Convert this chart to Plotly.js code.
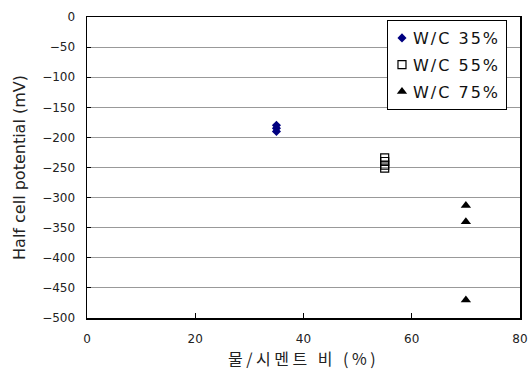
<!DOCTYPE html>
<html>
<head>
<meta charset="utf-8">
<script src="https://cdn.plot.ly/plotly-3.0.1.min.js"></script>
<style>html,body{margin:0;padding:0;background:#fff;}#chart{width:528px;height:374px;}</style>
</head>
<body>
<div id="chart"></div>
<script>
const seriesNames = ["W/C 35%", "W/C 55%", "W/C 75%"];
const x35 = [35, 35, 35];
const y35 = [-180, -185, -190];
const x55 = [55, 55, 55, 55];
const y55 = [-234, -240, -246, -251];
const x75 = [70, 70, 70];
const y75 = [-313, -340, -470];
const xTicks = [0, 20, 40, 60, 80];
const yTicks = [0, -50, -100, -150, -200, -250, -300, -350, -400, -450, -500];

const traces = [
  {x: x35, y: y35, name: seriesNames[0], legendgroup: 'g1', type: 'scatter', mode: 'markers',
   marker: {symbol: 'diamond', size: 7, color: '#000080'}},
  {x: x55, y: y55, name: seriesNames[1], legendgroup: 'g2', type: 'scatter', mode: 'markers',
   marker: {symbol: 'square-open', size: 8, color: '#000000', line: {width: 1.2, color: '#000'}}},
  {x: x75, y: y75, name: seriesNames[2], legendgroup: 'g3', type: 'scatter', mode: 'markers',
   marker: {symbol: 'triangle-up', size: 9, color: '#000000'}}
];

const tickFont = {size: 12, family: '"DejaVu Sans", sans-serif', color: '#222'};

const layout = {
  width: 528, height: 374,
  margin: {l: 87, r: 8, t: 17, b: 56},
  paper_bgcolor: '#fff', plot_bgcolor: '#fff',
  font: {family: '"DejaVu Sans", sans-serif', color: '#222', size: 12},
  showlegend: true,
  legend: {x: 0.6928, y: 0.99, xanchor: 'left', yanchor: 'top',
    bordercolor: '#000', borderwidth: 1, bgcolor: '#fff',
    font: {size: 16, family: '"DejaVu Sans", sans-serif', color: '#111'},
    tracegroupgap: 3},
  xaxis: {range: [0, 80], tickvals: xTicks, ticks: 'inside', ticklen: 5, tickcolor: '#000',
    showline: true, linecolor: '#000', linewidth: 1.5, mirror: true, showgrid: false, zeroline: false,
    tickfont: tickFont, ticklabelstandoff: 9,
    title: {text: '물/시멘트 비 (%)', font: {size: 16, family: '"Noto Sans CJK KR", sans-serif', color: '#222'}, standoff: 2}},
  yaxis: {range: [-500, 0], tickvals: yTicks, ticks: 'inside', ticklen: 4, tickcolor: '#000',
    showline: true, linecolor: '#000', linewidth: 1.5, mirror: true,
    showgrid: true, gridcolor: '#999', gridwidth: 1, zeroline: false,
    tickfont: tickFont, ticklabelstandoff: 8,
    title: {text: 'Half cell potential (mV)', font: {size: 16, family: '"DejaVu Sans", sans-serif', color: '#222'}, standoff: 12}}
};

Plotly.newPlot('chart', traces, layout, {displayModeBar: false, staticPlot: true}).then(function (gd) {
  // cosmetic spacing to mimic the original font's wide letter spacing
  gd.querySelectorAll('.legend .legendtext').forEach(function (t) {
    t.setAttribute('x', '25');
    t.style.letterSpacing = '2px';
  });
  gd.querySelectorAll('.legend .legendpoints').forEach(function (p) {
    p.setAttribute('transform', 'translate(-6,0)');
  });
  const bg = gd.querySelector('.legend rect.bg');
  if (bg) bg.setAttribute('width', '119');
  gd.querySelectorAll('clipPath[id^="legend"] rect').forEach(function (r) {
    r.setAttribute('width', '119');
  });
  const xt = gd.querySelector('.xtitle');
  if (xt) {
    xt.style.letterSpacing = '3.5px';
    const b = xt.getBBox();
    const target = 87 + 433 / 2;
    const x0 = parseFloat(xt.getAttribute('x'));
    xt.setAttribute('x', String(x0 + (target - (b.x + b.width / 2))));
  }
});
</script>
</body>
</html>
